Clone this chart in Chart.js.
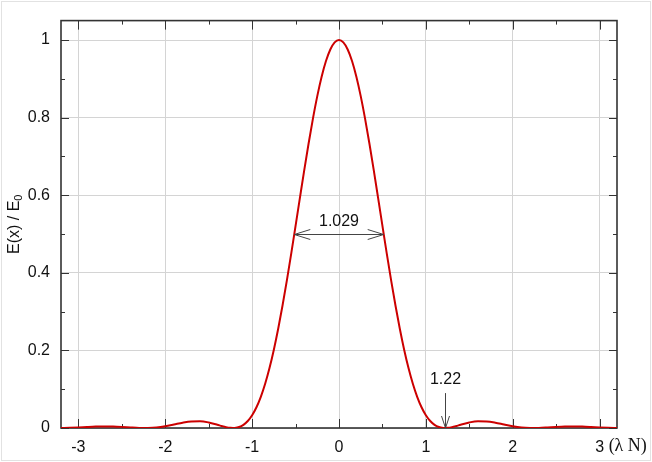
<!DOCTYPE html>
<html>
<head>
<meta charset="utf-8">
<script src="https://cdn.jsdelivr.net/npm/chart.js@4"></script>
<style>
  html, body { margin: 0; padding: 0; background: #fff; }
  #wrap { width: 652px; height: 462px; }
</style>
</head>
<body>
<div id="wrap"><canvas id="airy" width="652" height="462"></canvas></div>
<script>
/* ---- data ---- */
const xVals = [-3.2, -3.1, -3.0, -2.9, -2.8, -2.7, -2.6, -2.5, -2.4, -2.3, -2.23, -2.2, -2.1, -2.0,
  -1.9, -1.8, -1.7, -1.6, -1.5, -1.4, -1.35, -1.3, -1.25, -1.22, -1.2, -1.15, -1.1, -1.05, -1.0,
  -0.95, -0.9, -0.85, -0.8, -0.75, -0.7, -0.65, -0.6, -0.55, -0.5, -0.45, -0.4, -0.35, -0.3,
  -0.25, -0.2, -0.15, -0.1, -0.05, 0,
  0.05, 0.1, 0.15, 0.2, 0.25, 0.3, 0.35, 0.4, 0.45, 0.5, 0.55, 0.6, 0.65, 0.7, 0.75, 0.8, 0.85,
  0.9, 0.95, 1.0, 1.05, 1.1, 1.15, 1.2, 1.22, 1.25, 1.3, 1.35, 1.4, 1.5, 1.6, 1.7, 1.8, 1.9,
  2.0, 2.1, 2.2, 2.23, 2.3, 2.4, 2.5, 2.6, 2.7, 2.8, 2.9, 3.0, 3.1, 3.2];
const yVals = [0, 0.0005, 0.0014, 0.0026, 0.0036, 0.0041, 0.0039, 0.0029, 0.0015, 0.0003, 0, 0.0001, 0.0015, 0.0046,
  0.0090, 0.0136, 0.0168, 0.0173, 0.0143, 0.0085, 0.0052, 0.0023, 0.0004, 0, 0.0002, 0.0025, 0.0081, 0.0180, 0.0328,
  0.0534, 0.0803, 0.1139, 0.1544, 0.2018, 0.2558, 0.3157, 0.3806, 0.4495, 0.5209, 0.5931, 0.6645, 0.7332, 0.7975,
  0.8554, 0.9053, 0.9458, 0.9756, 0.9939, 1,
  0.9939, 0.9756, 0.9458, 0.9053, 0.8554, 0.7975, 0.7332, 0.6645, 0.5931, 0.5209, 0.4495, 0.3806, 0.3157, 0.2558, 0.2018, 0.1544, 0.1139,
  0.0803, 0.0534, 0.0328, 0.0180, 0.0081, 0.0025, 0.0002, 0, 0.0004, 0.0023, 0.0052, 0.0085, 0.0143, 0.0173, 0.0168, 0.0136, 0.0090,
  0.0046, 0.0015, 0.0001, 0, 0.0003, 0.0015, 0.0029, 0.0039, 0.0041, 0.0036, 0.0026, 0.0014, 0.0005, 0];

const xTicks = [-3, -2, -1, 0, 1, 2, 3];
const xMinor = [-2.5, -1.5, -0.5, 0.5, 1.5, 2.5];
const yTicks = [0, 0.2, 0.4, 0.6, 0.8, 1];
const yMinor = [0.1, 0.3, 0.5, 0.7, 0.9];
const xLabels = ['-3', '-2', '-1', '0', '1', '2', '3'];
const yLabels = ['0', '0.2', '0.4', '0.6', '0.8', '1'];

const fwhmLeft = -0.5145, fwhmRight = 0.5145, fwhmLevel = 0.5, fwhmText = '1.029';
const zeroX = 1.22, zeroText = '1.22';

const FONT = '"Liberation Sans", Arial, sans-serif';
const AXIS = '#333';

/* ---- frame, inward ticks, notes ---- */
const decor = {
  id: 'decor',
  beforeDatasetsDraw(chart) {
    const { ctx, chartArea: a, scales: { x, y } } = chart;
    ctx.save();
    ctx.strokeStyle = AXIS;
    ctx.lineWidth = 1;
    ctx.beginPath();
    xTicks.forEach(v => {
      const px = Math.round(x.getPixelForValue(v)) + 0.5;
      ctx.moveTo(px, a.bottom); ctx.lineTo(px, a.bottom - 9);
      ctx.moveTo(px, a.top); ctx.lineTo(px, a.top + 9);
    });
    xMinor.forEach(v => {
      const px = Math.round(x.getPixelForValue(v)) + 0.5;
      ctx.moveTo(px, a.bottom); ctx.lineTo(px, a.bottom - 4);
      ctx.moveTo(px, a.top); ctx.lineTo(px, a.top + 4);
    });
    yTicks.forEach(v => {
      const py = Math.round(y.getPixelForValue(v)) + 0.5;
      ctx.moveTo(a.left, py); ctx.lineTo(a.left + 8, py);
      ctx.moveTo(a.right, py); ctx.lineTo(a.right - 8, py);
    });
    yMinor.forEach(v => {
      const py = Math.round(y.getPixelForValue(v)) + 0.5;
      ctx.moveTo(a.left, py); ctx.lineTo(a.left + 4, py);
      ctx.moveTo(a.right, py); ctx.lineTo(a.right - 4, py);
    });
    ctx.stroke();
    ctx.lineWidth = 1.6;
    ctx.strokeRect(a.left, a.top, a.right - a.left, a.bottom - a.top);
    ctx.restore();
  },
  afterDatasetsDraw(chart) {
    const { ctx, chartArea: a, scales: { x, y } } = chart;
    ctx.save();
    ctx.strokeStyle = '#444';
    ctx.lineWidth = 1;

    // FWHM double arrow
    const l = x.getPixelForValue(fwhmLeft), r = x.getPixelForValue(fwhmRight);
    const py = Math.round(y.getPixelForValue(fwhmLevel)) + 0.5;
    ctx.beginPath();
    ctx.moveTo(l, py); ctx.lineTo(r, py);
    ctx.moveTo(l + 16, py - 5); ctx.lineTo(l, py); ctx.lineTo(l + 16, py + 5);
    ctx.moveTo(r - 16, py - 5); ctx.lineTo(r, py); ctx.lineTo(r - 16, py + 5);
    ctx.stroke();

    // first zero arrow
    const zx = Math.round(x.getPixelForValue(zeroX)) + 0.5;
    const zTop = y.getPixelForValue(0.09);
    ctx.beginPath();
    ctx.moveTo(zx, zTop); ctx.lineTo(zx, a.bottom);
    ctx.moveTo(zx - 4, a.bottom - 12); ctx.lineTo(zx, a.bottom); ctx.lineTo(zx + 4, a.bottom - 12);
    ctx.stroke();

    ctx.fillStyle = '#111';
    ctx.font = '16px ' + FONT;
    ctx.textAlign = 'center';
    ctx.textBaseline = 'alphabetic';
    ctx.fillText(fwhmText, x.getPixelForValue(0), py - 9);
    ctx.fillText(zeroText, zx, zTop - 9);

    // unit after the last tick
    ctx.textAlign = 'left';
    ctx.textBaseline = 'middle';
    ctx.font = '18px "Liberation Serif", "Times New Roman", serif';
    ctx.fillText('(\u03bb N)', x.getPixelForValue(3) + 9, 446);

    // y title
    ctx.translate(15, (a.top + a.bottom) / 2);
    ctx.rotate(-Math.PI / 2);
    ctx.font = '16px ' + FONT;
    ctx.textAlign = 'left';
    const main = 'E(x) / E';
    const w = ctx.measureText(main).width;
    ctx.font = '11px ' + FONT;
    const ws = ctx.measureText('0').width;
    const start = -(w + ws) / 2;
    ctx.font = '16px ' + FONT;
    ctx.fillText(main, start, 0);
    ctx.font = '11px ' + FONT;
    ctx.fillText('0', start + w, 4);
    ctx.restore();

    // outer border
    ctx.save();
    ctx.strokeStyle = '#e2e2e2';
    ctx.lineWidth = 1;
    ctx.strokeRect(1.5, 1.5, chart.width - 3, chart.height - 3);
    ctx.restore();
  }
};

new Chart(document.getElementById('airy'), {
  type: 'line',
  data: {
    datasets: [{
      data: xVals.map((v, i) => ({ x: v, y: yVals[i] })),
      borderColor: '#cc0000',
      borderWidth: 2,
      pointRadius: 0,
      cubicInterpolationMode: 'monotone',
      fill: false
    }]
  },
  options: {
    responsive: false,
    animation: false,
    events: [],
    layout: { padding: { left: 0, top: 19, right: 35, bottom: 0 } },
    plugins: { legend: { display: false }, tooltip: { enabled: false } },
    scales: {
      x: {
        type: 'linear',
        min: -3.2, max: 3.2,
        afterBuildTicks: s => { s.ticks = xTicks.map(v => ({ value: v })); },
        afterFit: s => { s.height = 34; },
        grid: { color: '#d4d4d4', drawTicks: false },
        border: { display: false },
        ticks: {
          padding: 10,
          color: '#111',
          font: { family: FONT, size: 16 },
          callback: (v, i) => xLabels[i]
        }
      },
      y: {
        min: 0, max: 1.05,
        afterBuildTicks: s => { s.ticks = yTicks.map(v => ({ value: v })); },
        afterFit: s => { s.width = 61; },
        grid: { color: '#d4d4d4', drawTicks: false },
        border: { display: false },
        ticks: {
          padding: 11,
          color: '#111',
          font: { family: FONT, size: 16 },
          callback: (v, i) => yLabels[i]
        }
      }
    }
  },
  plugins: [decor]
});
</script>
</body>
</html>
